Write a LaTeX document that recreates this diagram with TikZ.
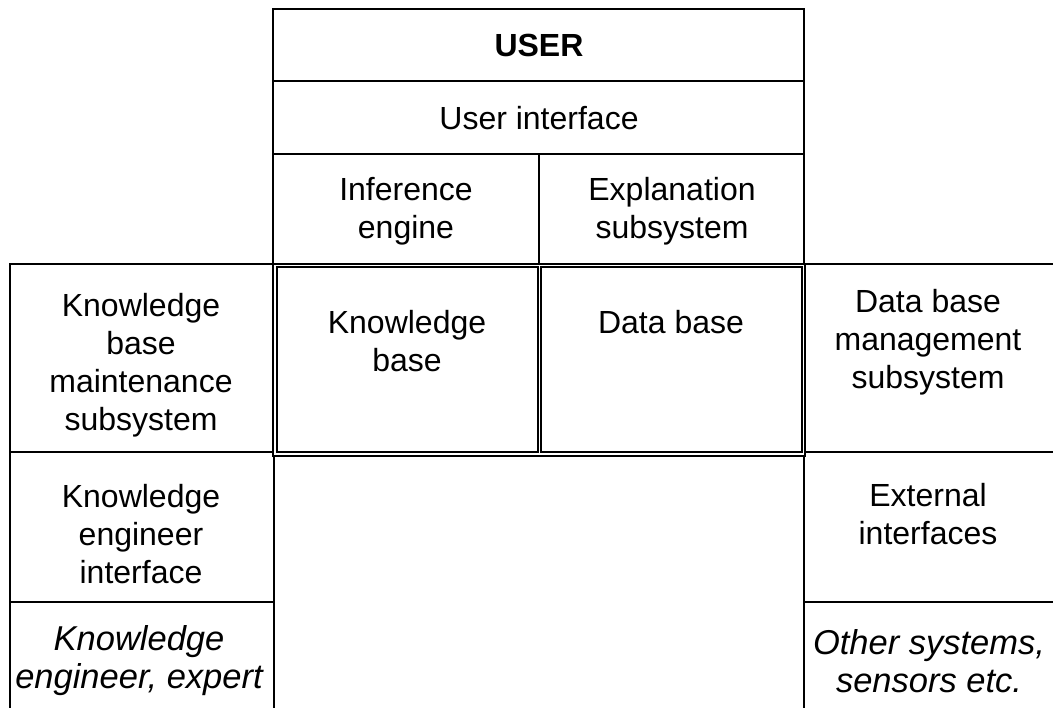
\documentclass[tikz,border=0pt]{standalone}
\usepackage{fontspec}
\setmainfont{Liberation Sans}
\usetikzlibrary{positioning}

\tikzset{
  frame/.style={draw, line width=2pt},
  cell text/.style={
    align=center,
    inner sep=0pt,
    font=\fontsize{32}{38}\selectfont},
  side text/.style={cell text, font=\fontsize{34.5}{38}\selectfont\itshape},
}

\begin{document}
\begin{tikzpicture}[x=1pt, y=-1pt]
\useasboundingbox (0,0) rectangle (1053,708);
\clip (0,0) rectangle (1053,708);

% centre column
\path[frame] (273,9) rectangle (804,264);
\path[frame] (273,81) -- (804,81);
\path[frame] (273,154) -- (804,154);
\path[frame] (539,154) -- (539,264);

% bases, double frame
\path[frame] (273,264) rectangle (805,456);
\path[frame] (276.5,267.5) rectangle (537.5,452.5);
\path[frame] (541,267.5) rectangle (802,452.5);
\path[frame] (274,456) -- (274,720);
\path[frame] (804,456) -- (804,720);

% side columns
\path[frame] (10,720) -- (10,264) -- (273,264);
\path[frame] (10,452) -- (273,452);
\path[frame] (10,602) -- (274,602);
\path[frame] (805,264) -- (1060,264);
\path[frame] (804,452) -- (1060,452);
\path[frame] (804,602) -- (1060,602);

\node[cell text, font=\fontsize{32}{38}\selectfont\bfseries] (user) at (539,45) {USER};
\node[cell text] (ui) at (539,118) {User interface};
\node[cell text] (inference) at (406,211) {Inference\\engine};
\node[cell text] (explanation) at (672,211) {Explanation\\subsystem};
\node[cell text] (kb) at (407,341) {Knowledge\\base};
\node[cell text] (db) at (671,322) {Data base};

\node[cell text] (kbm) at (141,365) {Knowledge\\base\\maintenance\\subsystem};
\node[cell text] (kei) at (141,534) {Knowledge\\engineer\\interface};
\node[side text] (expert) at (139,661) {Knowledge\\engineer, expert};

\node[cell text] (dbms) at (928,342) {Data base\\management\\subsystem};
\node[cell text] (ext) at (928,514) {External\\interfaces};
\node[side text] (other) at (929,661) {Other systems,\\sensors etc.};
\end{tikzpicture}
\end{document}
